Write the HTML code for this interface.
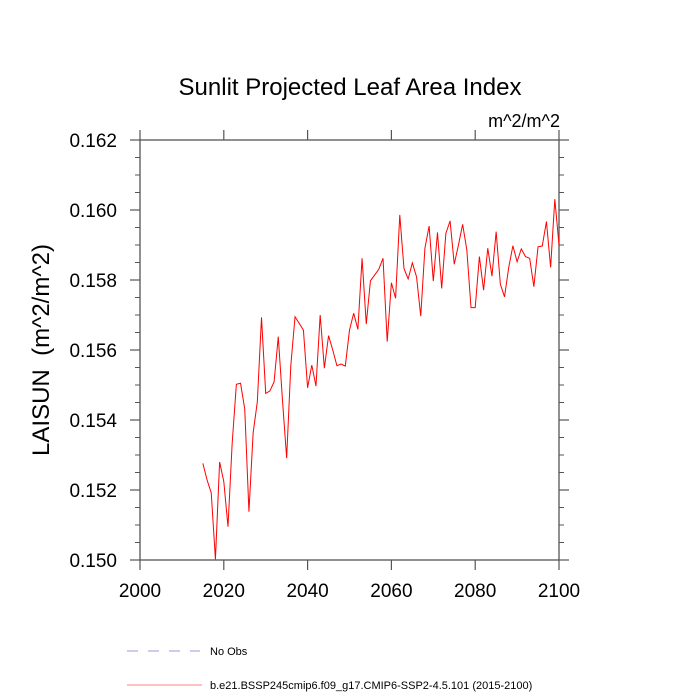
<!DOCTYPE html>
<html><head><meta charset="utf-8"><style>
html,body{margin:0;padding:0;background:#fff;}
svg{display:block;font-family:"Liberation Sans",sans-serif;}
</style></head><body>
<svg id="chart" width="700" height="700">
<text x="350" y="95" font-size="24" text-anchor="middle">Sunlit Projected Leaf Area Index</text>
<text x="560" y="127" font-size="18" text-anchor="end">m^2/m^2</text>
<text transform="translate(49,350) rotate(-90)" font-size="24" text-anchor="middle">LAISUN&#160;&#160;(m^2/m^2)</text>
<g id="axes"></g>
<g id="series"></g>
<g>
<line x1="127" y1="651" x2="200" y2="651" stroke="#9999dd" stroke-width="1" stroke-dasharray="11,10"/>
<text x="210" y="655" font-size="11">No Obs</text>
<line x1="127" y1="685" x2="202" y2="685" stroke="#ff8080" stroke-width="1"/>
<text x="210" y="689" font-size="11">b.e21.BSSP245cmip6.f09_g17.CMIP6-SSP2-4.5.101 (2015-2100)</text>
</g>
</svg>
<script>
const startYear = 2015;
const values = [0.15276,0.15229,0.15192,0.15002,0.15280,0.15224,0.15095,0.15334,0.15502,0.15505,
0.15431,0.15138,0.15363,0.15452,0.15693,0.15476,0.15483,0.15509,0.15638,0.15457,
0.15291,0.15557,0.15695,0.15676,0.15657,0.15492,0.15557,0.15497,0.15700,0.15548,
0.15641,0.15600,0.15555,0.15560,0.15554,0.15657,0.15705,0.15659,0.15862,0.15674,
0.15798,0.15814,0.15831,0.15862,0.15624,0.15792,0.15748,0.15986,0.15833,0.15803,
0.15849,0.15809,0.15697,0.15891,0.15954,0.15797,0.15936,0.15776,0.15933,0.15969,
0.15845,0.15900,0.15959,0.15886,0.15721,0.15721,0.15867,0.15771,0.15891,0.15811,
0.15938,0.15788,0.15752,0.15836,0.15898,0.15852,0.15889,0.15867,0.15862,0.15781,
0.15895,0.15897,0.15967,0.15836,0.16031,0.15900];
const xTicks = [2000,2020,2040,2060,2080,2100];
const yTicks = [0.150,0.152,0.154,0.156,0.158,0.160,0.162];

const L=140,R=559,T=140,B=560;
const xMin=2000,xMax=2100,yMin=0.150,yMax=0.162;
const X=v=>L+(v-xMin)/(xMax-xMin)*(R-L);
const Y=v=>B-(v-yMin)/(yMax-yMin)*(B-T);
const NS="http://www.w3.org/2000/svg";
const axes=document.getElementById('axes');
function mk(tag,attrs,parent){const e=document.createElementNS(NS,tag);for(const k in attrs)e.setAttribute(k,attrs[k]);parent.appendChild(e);return e;}

const frame=mk('rect',{x:L,y:T,width:R-L,height:B-T,fill:'none',stroke:'#555','stroke-width':1.3},axes);



xTicks.forEach(t=>{
  const x=X(t);
  const tk=mk('line',{x1:x,y1:B,x2:x,y2:B+10,stroke:'#555','stroke-width':1.2},axes);
  
  
  const tk2=mk('line',{x1:x,y1:T,x2:x,y2:T-10,stroke:'#555','stroke-width':1.2},axes);
  
  
  const lb=mk('text',{x:x,y:B+37,'font-size':19,'text-anchor':'middle'},axes);
  lb.textContent=t;
  
  
});
for(let i=0;i<yTicks.length;i++){
  const y=Y(yTicks[i]);
  [[L,L-10],[R,R+10]].forEach(p=>{
    const tk=mk('line',{x1:p[0],y1:y,x2:p[1],y2:y,stroke:'#555','stroke-width':1.2},axes);
    
    
  });
  const lb=mk('text',{x:L-23,y:y+7,'font-size':19,'text-anchor':'end'},axes);
  lb.textContent=yTicks[i].toFixed(3);
  
  
  if(i<yTicks.length-1){
    for(let m=1;m<4;m++){
      const ym=Y(yTicks[i]+(yTicks[i+1]-yTicks[i])*m/4);
      [[L,L-5],[R,R+5]].forEach(p=>{
        const mt=mk('line',{x1:p[0],y1:ym,x2:p[1],y2:ym,stroke:'#555','stroke-width':1},axes);
        
        
      });
    }
  }
}
const pts=values.map((v,i)=>X(startYear+i).toFixed(2)+','+Y(v).toFixed(2)).join(' ');
const line=mk('polyline',{points:pts,fill:'none',stroke:'#ff0000','stroke-width':1},document.getElementById('series'));


</script>
</body></html>
